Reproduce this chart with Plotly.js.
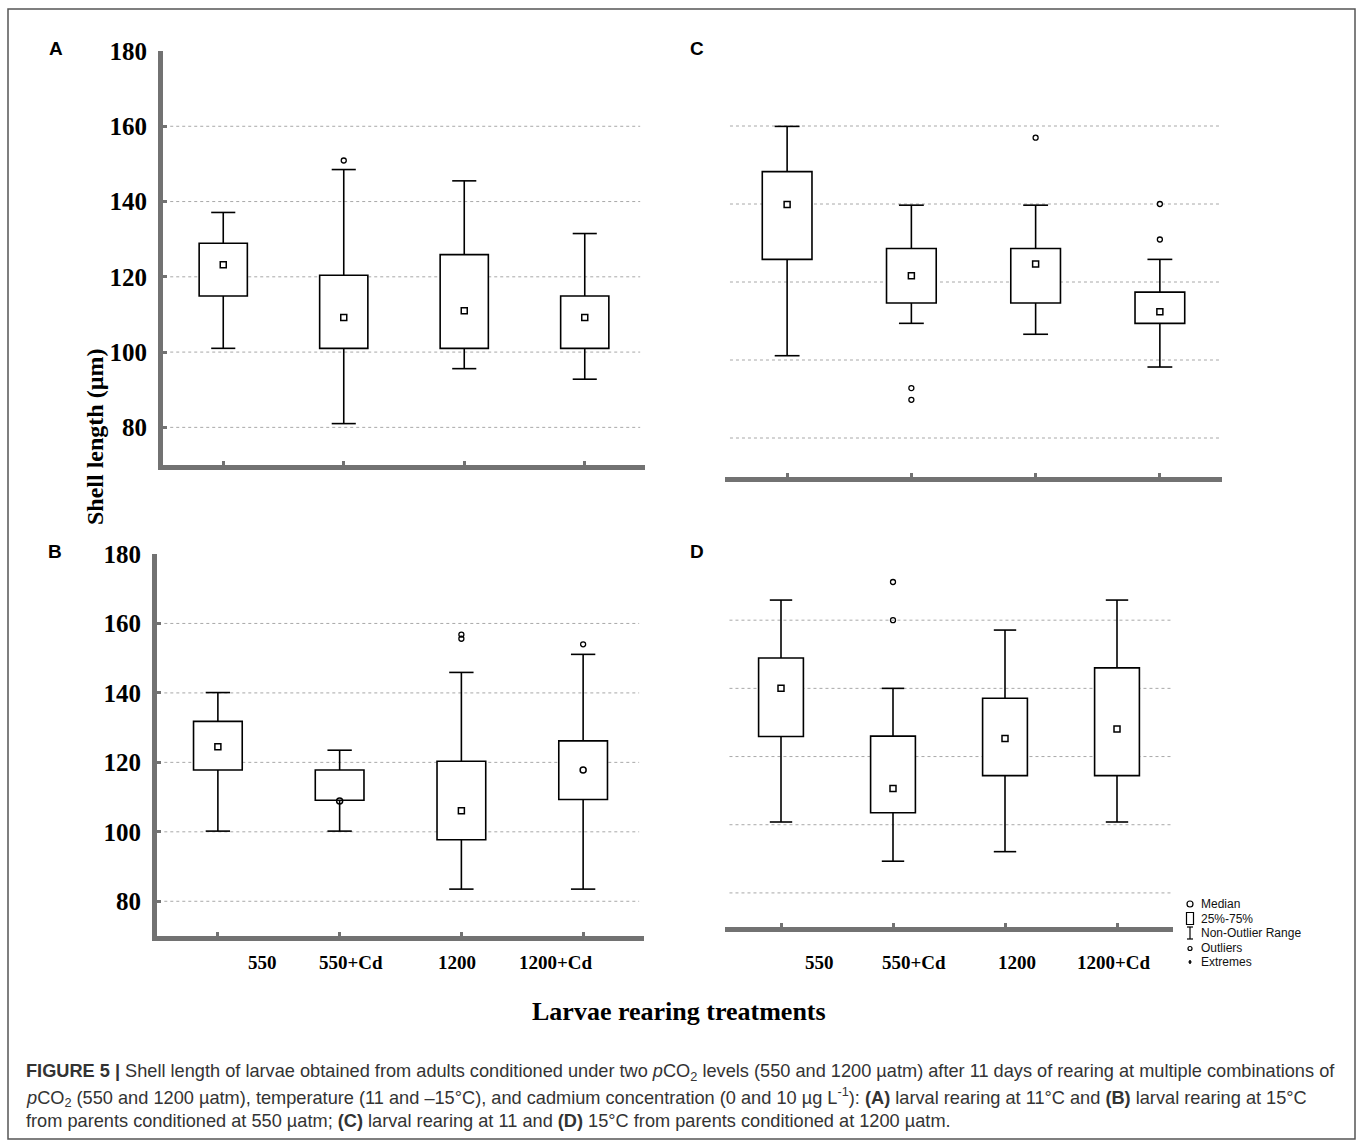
<!DOCTYPE html>
<html>
<head>
<meta charset="utf-8">
<script src="https://cdn.plot.ly/plotly-3.0.1.min.js"></script>
<style>html,body{margin:0;padding:0;background:#fff;}#chart{width:1357px;height:1141px;}</style>
</head>
<body>
<div id="chart"></div>
<script>
// ---------------- DATA ----------------
const CATEGORIES = ['550', '550+Cd', '1200', '1200+Cd'];
const Y_TICKS = [80, 100, 120, 140, 160, 180];
const GRID_VALUES = [80, 100, 120, 140, 160];

// Panel A: larval rearing at 11 °C, parents 550 µatm
const A_q1     = [114.9, 101.0, 101.0, 101.0];
const A_median = [123.2, 109.2, 111.0, 109.2];
const A_q3     = [128.9, 120.4, 125.9, 114.9];
const A_lower  = [101.0, 81.0, 95.6, 92.8];
const A_upper  = [137.1, 148.5, 145.5, 131.5];
const A_outlier_cat = [2];
const A_outlier_val = [150.9];

// Panel B: larval rearing at 15 °C, parents 550 µatm
const B_q1     = [117.8, 109.1, 97.7, 109.3];
const B_median = [124.5, 108.9, 106.1, 117.8];
const B_q3     = [131.8, 117.8, 120.3, 126.2];
const B_lower  = [100.2, 100.2, 83.5, 83.5];
const B_upper  = [140.1, 123.5, 145.9, 151.1];
const B_outlier_cat = [3, 3, 4];
const B_outlier_val = [156.8, 155.6, 154.0];

// Panel C: larval rearing at 11 °C, parents 1200 µatm
const C_q1     = [125.8, 114.6, 114.6, 109.4];
const C_median = [139.9, 121.6, 124.6, 112.4];
const C_q3     = [148.3, 128.6, 128.6, 117.4];
const C_lower  = [101.1, 109.4, 106.6, 98.2];
const C_upper  = [159.9, 139.7, 139.7, 125.8];
const C_outlier_cat = [2, 2, 3, 4, 4];
const C_outlier_val = [92.8, 89.8, 157.0, 140.0, 130.9];

// Panel D: larval rearing at 15 °C, parents 1200 µatm
const D_q1     = [125.9, 103.5, 114.4, 114.4];
const D_median = [140.0, 110.6, 125.3, 128.1];
const D_q3     = [148.9, 126.0, 137.1, 146.0];
const D_lower  = [100.8, 89.3, 92.1, 100.8];
const D_upper  = [165.9, 140.0, 157.1, 165.9];
const D_outlier_cat = [2, 2];
const D_outlier_val = [171.2, 160.0];

const LEGEND_ITEMS = ['Median', '25%-75%', 'Non-Outlier Range', 'Outliers', 'Extremes'];

// ---------------- STYLE / LAYOUT ----------------
const W = 1357, H = 1141;
const px = v => v / W;
const py = v => 1 - v / H;
const dx = (a, b) => [a / W, b / W];
const dy = (top, bottom) => [1 - bottom / H, 1 - top / H];

const POS = [1, 2, 3, 4];
const BOX_W = 0.4, CAP = 0.1;
const SERIF = 'Liberation Serif, Times New Roman, serif';
const SANS = 'Liberation Sans, Arial, sans-serif';
const AXIS_GRAY = '#727272';

const traces = [];
function addPanel(xa, ya, q1, med, q3, lo, up, oc, ov, medSymbols) {
  traces.push({
    type: 'bar', x: POS, base: q1, y: q3.map((v, i) => v - q1[i]),
    width: BOX_W, xaxis: xa, yaxis: ya,
    marker: {color: '#ffffff', line: {color: '#000', width: 1.6}},
    hoverinfo: 'skip'
  });
  const wx = [], wy = [];
  POS.forEach((p, i) => {
    wx.push(p, p, null, p - CAP, p + CAP, null, p, p, null, p - CAP, p + CAP, null);
    wy.push(q3[i], up[i], null, up[i], up[i], null, q1[i], lo[i], null, lo[i], lo[i], null);
  });
  traces.push({type: 'scatter', mode: 'lines', x: wx, y: wy, xaxis: xa, yaxis: ya,
    line: {color: '#000', width: 1.6}, hoverinfo: 'skip', connectgaps: false});
  traces.push({type: 'scatter', mode: 'markers', x: POS, y: med, xaxis: xa, yaxis: ya,
    marker: {symbol: medSymbols, size: 6, color: '#000', line: {color: '#000', width: 1.5}}});
  traces.push({type: 'scatter', mode: 'markers', x: oc, y: ov, xaxis: xa, yaxis: ya,
    marker: {symbol: 'circle-open', size: 5, color: '#000', line: {color: '#000', width: 1.3}}});
}
const SQ = 'square-open';
addPanel('x', 'y', A_q1, A_median, A_q3, A_lower, A_upper, A_outlier_cat, A_outlier_val, [SQ, SQ, SQ, SQ]);
addPanel('x2', 'y2', C_q1, C_median, C_q3, C_lower, C_upper, C_outlier_cat, C_outlier_val, [SQ, SQ, SQ, SQ]);
addPanel('x3', 'y3', B_q1, B_median, B_q3, B_lower, B_upper, B_outlier_cat, B_outlier_val, [SQ, 'circle-open', SQ, 'circle-open']);
addPanel('x4', 'y4', D_q1, D_median, D_q3, D_lower, D_upper, D_outlier_cat, D_outlier_val, [SQ, SQ, SQ, SQ]);

function xAxis(domain, anchor) {
  return {domain, anchor, range: [0.5, 4.5], tickvals: POS, showticklabels: false,
    ticks: 'inside', ticklen: 4, tickwidth: 3, tickcolor: AXIS_GRAY,
    showline: true, linecolor: AXIS_GRAY, linewidth: 5, showgrid: false, zeroline: false, fixedrange: true};
}
function yAxisLabeled(domain, anchor) {
  return {domain, anchor, range: [70, 180], tickvals: Y_TICKS, ticktext: Y_TICKS.map(String),
    ticks: 'inside', ticklen: 4, tickwidth: 3, tickcolor: AXIS_GRAY, ticklabelstandoff: 6,
    tickfont: {family: SERIF, size: 25, color: '#000', weight: 'bold'},
    showline: true, linecolor: AXIS_GRAY, linewidth: 5, showgrid: false, zeroline: false, fixedrange: true};
}
function yAxisBare(domain, anchor) {
  return {domain, anchor, range: [70, 180], showticklabels: false, ticks: '', showline: false,
    showgrid: false, zeroline: false, fixedrange: true};
}

const shapes = [];
[['x', 'y', 0.015, 0.99], ['x2', 'y2', 0.01, 0.995], ['x3', 'y3', 0.015, 0.99], ['x4', 'y4', 0.01, 0.995]].forEach(([xa, ya, a, b]) => {
  GRID_VALUES.forEach(g => shapes.push({type: 'line', layer: 'below', xref: xa + ' domain', yref: ya,
    x0: a, x1: b, y0: g, y1: g, line: {color: '#a8a8a8', width: 1, dash: 'dot'}}));
});
shapes.push({type: 'rect', xref: 'paper', yref: 'paper', x0: px(8), x1: px(1355), y0: py(1139), y1: py(9),
  line: {color: '#555', width: 1.5}, fillcolor: 'rgba(0,0,0,0)'});

// legend symbols (layout decoration)
const LX = 1190, LY0 = 904, LDY = 14.5;
const ps = (x0, y0, x1, y1, type, w) => shapes.push({type, xref: 'paper', yref: 'paper',
  x0: px(x0), x1: px(x1), y0: py(y0), y1: py(y1), line: {color: '#000', width: w || 1.2}, fillcolor: 'rgba(0,0,0,0)'});
ps(LX - 3, LY0 - 3, LX + 3, LY0 + 3, 'circle');
ps(LX - 3.5, LY0 + LDY - 6, LX + 3.5, LY0 + LDY + 6, 'rect');
ps(LX, LY0 + 2 * LDY - 6, LX, LY0 + 2 * LDY + 6, 'line');
ps(LX - 3, LY0 + 2 * LDY - 6, LX + 3, LY0 + 2 * LDY - 6, 'line');
ps(LX - 3, LY0 + 2 * LDY + 6, LX + 3, LY0 + 2 * LDY + 6, 'line');
ps(LX - 2, LY0 + 3 * LDY - 1, LX + 2, LY0 + 3 * LDY + 3, 'circle');
ps(LX - 1.5, LY0 + 4 * LDY, LX + 1.5, LY0 + 4 * LDY, 'line', 1.5);
ps(LX, LY0 + 4 * LDY - 2, LX, LY0 + 4 * LDY + 2, 'line', 1.5);

const annotations = [];
function txt(text, x, y, size, family, opts) {
  annotations.push(Object.assign({xref: 'paper', yref: 'paper', x: px(x), y: py(y), text,
    showarrow: false, font: {family, size, color: '#000'}, xanchor: 'center', yanchor: 'middle'}, opts || {}));
}
// panel letters
txt('<b>A</b>', 56, 49, 19, SANS);
txt('<b>C</b>', 697, 49, 19, SANS);
txt('<b>B</b>', 55, 551, 19, SANS);
txt('<b>D</b>', 697, 551, 19, SANS);
// axis titles
txt('<b>Shell length (µm)</b>', 95, 437, 24, SERIF, {textangle: -90});
txt('<b>Larvae rearing treatments</b>', 679, 1011, 26, SERIF);
// category labels under B and D
const B_LABEL_X = [262, 351, 457, 556];
const D_LABEL_X = [819, 914, 1017, 1114];
CATEGORIES.forEach((c, i) => {
  txt('<b>' + c + '</b>', B_LABEL_X[i], 962, 19, SERIF);
  txt('<b>' + c + '</b>', D_LABEL_X[i], 962, 19, SERIF);
});
// legend texts in panel D
LEGEND_ITEMS.forEach((t, i) => {
  txt(t, 1199, LY0 + i * LDY, 12, SANS, {xanchor: 'left', font: {family: SANS, size: 12, color: '#111'}});
});
// caption
const CAP_FONT = {family: SANS, size: 18.2, color: '#333'};
const capLines = [
  '<b>FIGURE 5 |</b> Shell length of larvae obtained from adults conditioned under two <i>p</i>CO<sub>2</sub> levels (550 and 1200 µatm) after 11 days of rearing at multiple combinations of',
  '<i>p</i>CO<sub>2</sub> (550 and 1200 µatm), temperature (11 and –15°C), and cadmium concentration (0 and 10 µg L<sup>-1</sup>): <b>(A)</b> larval rearing at 11°C and <b>(B)</b> larval rearing at 15°C',
  'from parents conditioned at 550 µatm; <b>(C)</b> larval rearing at 11 and <b>(D)</b> 15°C from parents conditioned at 1200 µatm.'
];
capLines.forEach((t, i) => txt(t, 24, 1072 + i * 24.5, 18.2, SANS, {xanchor: 'left', font: CAP_FONT}));

const layout = {
  width: W, height: H, margin: {l: 0, r: 0, t: 0, b: 0},
  paper_bgcolor: '#fff', plot_bgcolor: 'rgba(0,0,0,0)', showlegend: false, barmode: 'overlay',
  xaxis: xAxis(dx(163, 645), 'y'),
  yaxis: yAxisLabeled(dy(51, 465), 'x'),
  xaxis2: xAxis(dx(725, 1222), 'y2'),
  yaxis2: yAxisBare(dy(48, 477), 'x2'),
  xaxis3: xAxis(dx(157, 644), 'y3'),
  yaxis3: yAxisLabeled(dy(554, 936), 'x3'),
  xaxis4: xAxis(dx(725, 1173), 'y4'),
  yaxis4: yAxisBare(dy(552, 927), 'x4'),
  shapes, annotations
};
Plotly.newPlot('chart', traces, layout, {displayModeBar: false, staticPlot: true});
</script>
</body>
</html>
